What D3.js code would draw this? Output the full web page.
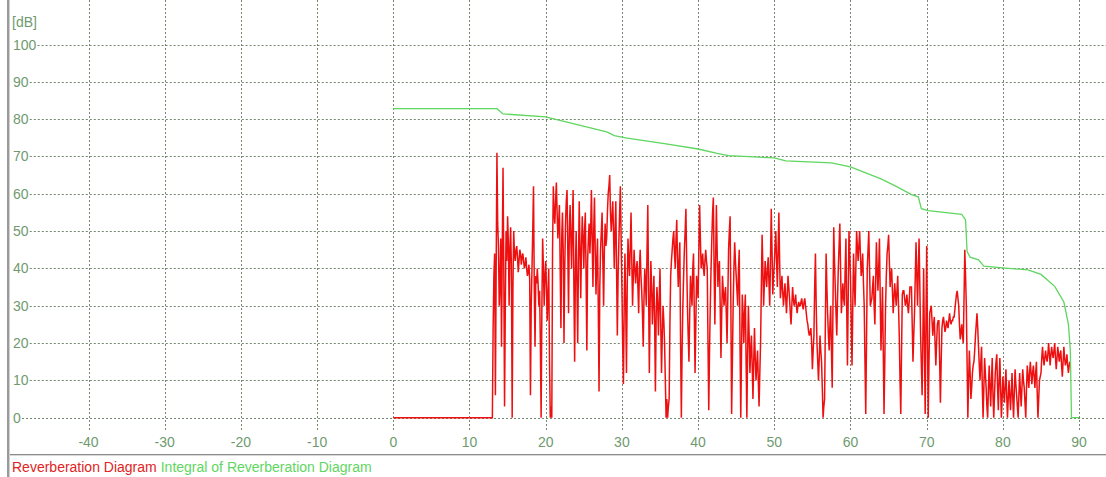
<!DOCTYPE html>
<html>
<head>
<meta charset="utf-8">
<script src="https://cdn.jsdelivr.net/npm/d3@7"></script>
<style>
  body { margin: 0; background: #fff; }
  svg { display: block; }
  text { font-family: "Liberation Sans", Arial, sans-serif; }
</style>
</head>
<body>
<svg id="chart" width="1106" height="477"></svg>
<script>
// tick labels
var xTicks = [-40, -30, -20, -10, 0, 10, 20, 30, 40, 50, 60, 70, 80, 90];
var yTicks = [0, 10, 20, 30, 40, 50, 60, 70, 80, 90, 100];

// Reverberation Diagram: flat part, then samples every 0.1 from 13.0
var redLeadX = [0, 13];
var redLeadY = [0, 0];
var redStart = 13, redStep = 0.1;
var redValues = [
  0, 24, 38, 44, 6, 40, 71, 52, 46, 30,      // 13
  36, 48, 19, 45, 67, 40, 3, 30, 50, 42,     // 14
  54, 47, 30, 45, 51, 40, 0, 35, 50, 44,     // 15
  42, 45, 46, 43, 39, 42, 45, 44, 41, 43,    // 16
  44, 42, 40, 41, 43, 40, 38, 39, 41, 37,    // 17
  6, 30, 40, 50, 62, 35, 19, 38, 36, 40,     // 18
  36, 30, 34, 20, 0, 30, 48, 40, 30, 38,     // 19
  42, 35, 26, 33, 40, 15, 0, 3, 0, 45,       // 20
  62, 55, 52, 58, 63, 55, 48, 52, 57, 40,    // 21
  24, 48, 55, 45, 20, 40, 52, 58, 61, 45,    // 22
  28, 50, 57, 48, 40, 52, 61, 35, 15, 40,    // 23
  50, 35, 20, 42, 58, 45, 32, 46, 54, 48,    // 24
  40, 50, 55, 38, 18, 42, 48, 52, 44, 50,    // 25
  61, 48, 35, 50, 59, 45, 33, 42, 48, 30,    // 26
  7, 35, 45, 50, 55, 42, 30, 45, 52, 46,     // 27
  48, 55, 60, 62, 65, 55, 50, 54, 58, 50,    // 28
  40, 50, 58, 40, 22, 38, 47, 55, 62, 48,    // 29
  35, 20, 9, 30, 44, 30, 12, 35, 48, 42,     // 30
  38, 46, 55, 42, 30, 38, 45, 40, 36, 40,    // 31
  42, 35, 28, 40, 45, 38, 34, 28, 19, 32,    // 32
  40, 36, 30, 45, 57, 35, 12, 30, 42, 35,    // 33
  25, 32, 38, 25, 7, 28, 35, 30, 22, 32,     // 34
  40, 25, 12, 22, 30, 26, 20, 10, 0, 5,      // 35
  0, 3, 5, 25, 38, 42, 45, 48, 50, 44,       // 36
  40, 48, 53, 42, 35, 42, 47, 20, 0, 18,     // 37
  30, 38, 45, 50, 56, 42, 30, 22, 15, 28,    // 38
  38, 34, 30, 40, 44, 28, 12, 25, 38, 35,    // 39
  32, 45, 57, 48, 40, 42, 44, 40, 38, 42,    // 40
  45, 42, 40, 20, 2, 18, 30, 40, 48, 55,     // 41
  59, 40, 25, 42, 57, 45, 35, 40, 42, 30,    // 42
  16, 28, 38, 34, 30, 33, 35, 28, 20, 32,    // 43
  45, 50, 54, 30, 1, 15, 30, 40, 47, 42,     // 44
  38, 34, 30, 40, 45, 20, 0, 18, 33, 28,     // 45
  20, 28, 33, 15, 0, 18, 30, 22, 12, 18,     // 46
  22, 14, 5, 15, 24, 16, 10, 14, 18, 10,     // 47
  3, 12, 20, 35, 49, 40, 30, 36, 42, 38,     // 48
  35, 40, 43, 36, 30, 42, 56, 45, 33, 38,    // 49
  41, 46, 50, 42, 35, 45, 55, 42, 32, 35,    // 50
  38, 34, 30, 33, 36, 32, 28, 33, 38, 35,    // 51
  32, 28, 25, 30, 35, 32, 30, 31, 33, 30,    // 52
  28, 30, 31, 30, 30, 31, 32, 30, 29, 31,    // 53
  32, 30, 28, 26, 25, 23, 22, 23, 24, 20,    // 54
  13, 18, 22, 35, 44, 30, 20, 15, 10, 16,    // 55
  22, 18, 15, 8, 0, 3, 5, 25, 44, 35,        // 56
  28, 22, 18, 25, 30, 18, 8, 30, 51, 42,     // 57
  35, 28, 22, 32, 40, 46, 52, 40, 28, 32,    // 58
  36, 32, 30, 40, 48, 30, 14, 32, 50, 44,    // 59
  38, 25, 14, 30, 44, 36, 30, 40, 50, 46,    // 60
  42, 46, 50, 44, 38, 40, 44, 36, 30, 15,    // 61
  1, 20, 40, 45, 50, 40, 30, 31, 32, 35,     // 62
  38, 30, 25, 36, 47, 40, 34, 40, 48, 32,    // 63
  18, 26, 35, 18, 1, 15, 30, 38, 44, 46,     // 64
  49, 42, 35, 38, 40, 34, 28, 32, 36, 33,    // 65
  30, 34, 38, 30, 22, 10, 1, 18, 33, 34,     // 66
  34, 32, 30, 31, 33, 30, 28, 31, 35, 35,    // 67
  35, 25, 15, 22, 28, 38, 47, 38, 30, 40,    // 68
  48, 35, 22, 14, 6, 22, 40, 20, 1, 25,      // 69
  46, 22, 0, 15, 28, 29, 30, 26, 22, 25,     // 70
  27, 20, 14, 20, 25, 26, 26, 15, 4, 15,     // 71
  24, 26, 27, 25, 23, 24, 26, 25, 24, 26,    // 72
  28, 26, 25, 26, 26, 27, 27, 29, 31, 33,    // 73
  34, 32, 30, 25, 21, 23, 25, 22, 20, 32,    // 74
  45, 38, 30, 15, 0, 10, 18, 12, 5, 8,       // 75
  12, 14, 15, 18, 22, 25, 28, 24, 19, 14,    // 76
  10, 15, 19, 8, 0, 8, 16, 12, 8, 3,         // 77
  0, 8, 14, 8, 3, 10, 16, 6, 0, 6,           // 78
  12, 15, 17, 8, 2, 10, 16, 8, 0, 5,         // 79
  11, 7, 4, 9, 13, 6, 0, 5, 10, 6,           // 80
  2, 7, 12, 5, 0, 7, 13, 9, 6, 3,            // 81
  0, 6, 12, 7, 3, 8, 13, 10, 8, 4,           // 82
  0, 8, 14, 11, 8, 12, 15, 12, 9, 12,        // 83
  14, 11, 8, 12, 15, 7, 0, 5, 10, 11,        // 84
  12, 16, 19, 16, 14, 16, 18, 16, 15, 17,    // 85
  20, 17, 14, 17, 19, 17, 16, 18, 20, 16,    // 86
  13, 16, 19, 17, 15, 17, 18, 14, 11, 15,    // 87
  19, 16, 14, 15, 17, 14, 12, 14, 15         // 88
];

// Integral of Reverberation Diagram
var greenX = [0, 13.6, 14.4, 20, 22, 26, 28, 29, 30.5, 36, 40, 42.5, 44, 50, 51.5, 57.5, 60, 62, 64, 66, 68,
  68.9, 69.3, 70.2, 74.6, 75.1, 75.3, 75.7, 76.8, 77.5, 80.3, 83.3, 85, 86.8, 88, 88.6, 88.85, 89, 90];
var greenY = [82.8, 82.8, 81.4, 80.6, 79.6, 77.6, 76.6, 75.6, 75, 73.3, 72, 70.8, 70.2, 69.6, 68.8, 68.3, 67.2, 65.6, 64, 62, 59.8,
  59.2, 56, 55.5, 54.5, 53, 44.5, 43, 42.3, 40.6, 40.1, 39.6, 38.4, 35.2, 31, 25, 18, 0, 0];

var legendItems = ["Reverberation Diagram", "Integral of Reverberation Diagram"];
var legendColors = ["#e02424", "#5fd65f"];

var W = 1106, H = 477;
var svg = d3.select("#chart");

var x = d3.scaleLinear().domain([-50, 90]).range([12.3, 1079.1]);
var y = d3.scaleLinear().domain([0, 100]).range([417.7, 44.5]);

var gridColor = "#76876f";
var labelColor = "#6f9a6f";
var fontSize = 14;

// left frame bar
svg.append("rect").attr("x", 7).attr("y", 0).attr("width", 2).attr("height", H).attr("fill", "#9a9a9a");
svg.append("rect").attr("x", 9).attr("y", 0).attr("width", 1).attr("height", H).attr("fill", "#d0d0d0");

// vertical grid + x labels
var xg = svg.append("g");
xg.selectAll("line").data(xTicks).enter().append("line")
  .attr("x1", function(d) { return Math.round(x(d)) + 0.5; })
  .attr("x2", function(d) { return Math.round(x(d)) + 0.5; })
  .attr("y1", 0).attr("y2", 430)
  .attr("stroke", gridColor).attr("stroke-width", 1).attr("stroke-dasharray", "2,2");
xg.selectAll("text").data(xTicks).enter().append("text")
  .attr("x", function(d) { return x(d); })
  .attr("y", 447)
  .attr("text-anchor", "middle")
  .attr("font-size", fontSize)
  .attr("fill", labelColor)
  .text(function(d) { return d; });

// horizontal grid + y labels
var yg = svg.append("g");
yTicks.forEach(function(t) {
  var lbl = yg.append("text")
    .attr("x", 13)
    .attr("y", y(t) + 5)
    .attr("font-size", fontSize)
    .attr("fill", labelColor)
    .text(t);
  var bb = lbl.node().getBBox();
  yg.insert("line", "text")
    .attr("x1", bb.x + bb.width + 1).attr("x2", W)
    .attr("y1", Math.round(y(t)) + 0.5).attr("y2", Math.round(y(t)) + 0.5)
    .attr("stroke", gridColor).attr("stroke-width", 1).attr("stroke-dasharray", "2,2");
});

svg.append("text")
  .attr("x", 12).attr("y", 27)
  .attr("font-size", fontSize)
  .attr("fill", labelColor)
  .text("[dB]");

// red series
var redPts = redLeadX.map(function(d, i) { return [d, redLeadY[i]]; });
redValues.forEach(function(v, i) { redPts.push([redStart + i * redStep, v]); });

var line = d3.line()
  .x(function(d) { return x(d[0]); })
  .y(function(d) { return y(d[1]); });

svg.append("path")
  .datum(redPts)
  .attr("d", line)
  .attr("fill", "none")
  .attr("stroke", "#ee1010")
  .attr("stroke-width", 1.5)
  .attr("stroke-linejoin", "miter")
  .attr("stroke-miterlimit", 2);

// green series
var greenPts = greenX.map(function(d, i) { return [d, greenY[i]]; });
svg.append("path")
  .datum(greenPts)
  .attr("d", line)
  .attr("fill", "none")
  .attr("stroke", legendColors[1])
  .attr("stroke-width", 1.3);

// bottom separator
svg.append("rect").attr("x", 10).attr("y", 454).attr("width", W - 10).attr("height", 1).attr("fill", "#8c8c8c");
svg.append("rect").attr("x", 10).attr("y", 455).attr("width", W - 10).attr("height", 1).attr("fill", "#d8d8d8");

// legend
var lx = 12;
legendItems.forEach(function(name, i) {
  var t = svg.append("text")
    .attr("x", lx).attr("y", 472)
    .attr("font-size", fontSize)
    .attr("fill", legendColors[i])
    .text(name);
  lx += t.node().getComputedTextLength() + 4;
});
</script>
</body>
</html>
